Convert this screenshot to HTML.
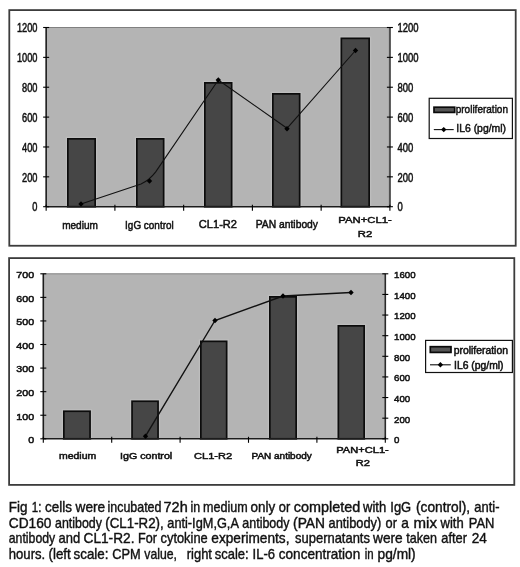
<!DOCTYPE html>
<html><head><meta charset="utf-8"><title>Fig 1</title>
<style>
html,body{margin:0;padding:0;background:#fff;}
body{width:520px;height:567px;overflow:hidden;position:relative;font-family:"Liberation Sans",Arial,sans-serif;}
svg{position:absolute;left:0;top:0;display:block;filter:blur(0.4px);}
svg text{font-family:"Liberation Sans",Arial,sans-serif;fill:#111;stroke:#111;stroke-width:0.5px;}
svg text.cap{font-size:13.9px;fill:#111;stroke-width:0.4px;}
</style></head><body>
<svg width="520" height="567" viewBox="0 0 520 567">
<rect x="9.3" y="10.1" width="506.40000000000003" height="235.65" fill="#fff" stroke="#3c3c3c" stroke-width="1.8"/>
<rect x="46.15" y="27.5" width="343.75" height="179.2" fill="#b4b4b4"/>
<line x1="46.15" y1="27.5" x2="389.9" y2="27.5" stroke="#808080" stroke-width="1"/>
<rect x="66.4" y="137.4" width="30.2" height="69.29999999999998" fill="none" stroke="#bdbdbd" stroke-width="1.2"/>
<rect x="67.85" y="138.85" width="27.3" height="67.85" fill="#464646" stroke="#0c0c0c" stroke-width="1.7"/>
<rect x="135.4" y="137.4" width="29.7" height="69.29999999999998" fill="none" stroke="#bdbdbd" stroke-width="1.2"/>
<rect x="136.85" y="138.85" width="26.8" height="67.85" fill="#464646" stroke="#0c0c0c" stroke-width="1.7"/>
<rect x="203.4" y="81.4" width="29.7" height="125.29999999999998" fill="none" stroke="#bdbdbd" stroke-width="1.2"/>
<rect x="204.85" y="82.85" width="26.8" height="123.85" fill="#464646" stroke="#0c0c0c" stroke-width="1.7"/>
<rect x="271.4" y="92.4" width="29.7" height="114.29999999999998" fill="none" stroke="#bdbdbd" stroke-width="1.2"/>
<rect x="272.85" y="93.85" width="26.8" height="112.85" fill="#464646" stroke="#0c0c0c" stroke-width="1.7"/>
<rect x="339.9" y="36.9" width="30.7" height="169.79999999999998" fill="none" stroke="#bdbdbd" stroke-width="1.2"/>
<rect x="341.35" y="38.35" width="27.8" height="168.35" fill="#464646" stroke="#0c0c0c" stroke-width="1.7"/>
<line x1="46.15" y1="27.5" x2="46.15" y2="206.7" stroke="#1c1c1c" stroke-width="1.6"/>
<line x1="389.9" y1="27.5" x2="389.9" y2="206.7" stroke="#505050" stroke-width="2.0"/>
<line x1="46.15" y1="206.7" x2="389.9" y2="206.7" stroke="#1c1c1c" stroke-width="1.6"/>
<line x1="43.15" y1="206.70" x2="49.15" y2="206.70" stroke="#000" stroke-width="1.1"/>
<text transform="translate(37.45,211.4) scale(0.77,1)" font-size="12" text-anchor="end">0</text>
<line x1="43.15" y1="176.83" x2="49.15" y2="176.83" stroke="#000" stroke-width="1.1"/>
<text transform="translate(37.45,181.53) scale(0.77,1)" font-size="12" text-anchor="end">200</text>
<line x1="43.15" y1="146.97" x2="49.15" y2="146.97" stroke="#000" stroke-width="1.1"/>
<text transform="translate(37.45,151.67) scale(0.77,1)" font-size="12" text-anchor="end">400</text>
<line x1="43.15" y1="117.10" x2="49.15" y2="117.10" stroke="#000" stroke-width="1.1"/>
<text transform="translate(37.45,121.8) scale(0.77,1)" font-size="12" text-anchor="end">600</text>
<line x1="43.15" y1="87.23" x2="49.15" y2="87.23" stroke="#000" stroke-width="1.1"/>
<text transform="translate(37.45,91.93) scale(0.77,1)" font-size="12" text-anchor="end">800</text>
<line x1="43.15" y1="57.37" x2="49.15" y2="57.37" stroke="#000" stroke-width="1.1"/>
<text transform="translate(37.45,62.07) scale(0.77,1)" font-size="12" text-anchor="end">1000</text>
<line x1="43.15" y1="27.50" x2="49.15" y2="27.50" stroke="#000" stroke-width="1.1"/>
<text transform="translate(37.45,32.2) scale(0.77,1)" font-size="12" text-anchor="end">1200</text>
<line x1="386.9" y1="206.70" x2="392.9" y2="206.70" stroke="#000" stroke-width="1.1"/>
<text transform="translate(397.5,211.4) scale(0.79,1)" font-size="12" text-anchor="start">0</text>
<line x1="386.9" y1="176.83" x2="392.9" y2="176.83" stroke="#000" stroke-width="1.1"/>
<text transform="translate(397.5,181.53) scale(0.79,1)" font-size="12" text-anchor="start">200</text>
<line x1="386.9" y1="146.97" x2="392.9" y2="146.97" stroke="#000" stroke-width="1.1"/>
<text transform="translate(397.5,151.67) scale(0.79,1)" font-size="12" text-anchor="start">400</text>
<line x1="386.9" y1="117.10" x2="392.9" y2="117.10" stroke="#000" stroke-width="1.1"/>
<text transform="translate(397.5,121.8) scale(0.79,1)" font-size="12" text-anchor="start">600</text>
<line x1="386.9" y1="87.23" x2="392.9" y2="87.23" stroke="#000" stroke-width="1.1"/>
<text transform="translate(397.5,91.93) scale(0.79,1)" font-size="12" text-anchor="start">800</text>
<line x1="386.9" y1="57.37" x2="392.9" y2="57.37" stroke="#000" stroke-width="1.1"/>
<text transform="translate(397.5,62.07) scale(0.79,1)" font-size="12" text-anchor="start">1000</text>
<line x1="386.9" y1="27.50" x2="392.9" y2="27.50" stroke="#000" stroke-width="1.1"/>
<text transform="translate(397.5,32.2) scale(0.79,1)" font-size="12" text-anchor="start">1200</text>
<line x1="46.15" y1="204.7" x2="46.15" y2="210.7" stroke="#000" stroke-width="1.1"/>
<line x1="114.90" y1="204.7" x2="114.90" y2="210.7" stroke="#000" stroke-width="1.1"/>
<line x1="183.65" y1="204.7" x2="183.65" y2="210.7" stroke="#000" stroke-width="1.1"/>
<line x1="252.40" y1="204.7" x2="252.40" y2="210.7" stroke="#000" stroke-width="1.1"/>
<line x1="321.15" y1="204.7" x2="321.15" y2="210.7" stroke="#000" stroke-width="1.1"/>
<line x1="389.90" y1="204.7" x2="389.90" y2="210.7" stroke="#000" stroke-width="1.1"/>
<text x="62.15" y="229" font-size="11" textLength="35.75" lengthAdjust="spacingAndGlyphs">medium</text>
<text x="125.10" y="229" font-size="11" textLength="48.60" lengthAdjust="spacingAndGlyphs">IgG control</text>
<text x="198.80" y="228.4" font-size="11" textLength="38.20" lengthAdjust="spacingAndGlyphs">CL1-R2</text>
<text x="255.75" y="228.4" font-size="11" textLength="62.25" lengthAdjust="spacingAndGlyphs">PAN antibody</text>
<text x="338.25" y="223.2" font-size="9.8" textLength="53.50" lengthAdjust="spacingAndGlyphs">PAN+CL1-</text>
<text x="357.75" y="236.5" font-size="9.8" textLength="14.50" lengthAdjust="spacingAndGlyphs">R2</text>
<path d="M81,204 L141,183.9 Q149.3,180.4 155.7,171.9 L218.3,80 L287,128.3 L355.5,50.5" fill="none" stroke="#111" stroke-width="1.1" stroke-linejoin="round"/>
<path d="M78.3,204 L81,201.3 L83.7,204 L81,206.7Z" fill="#000"/>
<path d="M146.8,181 L149.5,178.3 L152.2,181 L149.5,183.7Z" fill="#000"/>
<path d="M215.60000000000002,80 L218.3,77.3 L221.0,80 L218.3,82.7Z" fill="#000"/>
<path d="M284.3,128.8 L287,126.10000000000001 L289.7,128.8 L287,131.5Z" fill="#000"/>
<path d="M352.8,50.5 L355.5,47.8 L358.2,50.5 L355.5,53.2Z" fill="#000"/>
<rect x="429.2" y="98.3" width="83.19999999999999" height="40.2" fill="#fff" stroke="#111" stroke-width="1.2"/>
<rect x="434" y="107.2" width="20.69999999999999" height="5.200000000000003" fill="#555" stroke="#0a0a0a" stroke-width="1.7"/>
<text x="455.70" y="112.6" font-size="11.7" textLength="52.30" lengthAdjust="spacingAndGlyphs">proliferation</text>
<line x1="433.8" y1="129.6" x2="453.7" y2="129.6" stroke="#111" stroke-width="1.1"/>
<path d="M441.05,129.6 L443.75,126.89999999999999 L446.45,129.6 L443.75,132.29999999999998Z" fill="#000"/>
<text x="456.30" y="131.6" font-size="11.7" textLength="49.70" lengthAdjust="spacingAndGlyphs">IL6 (pg/ml)</text>
<rect x="9.1" y="258.1" width="505.19999999999993" height="226.79999999999995" fill="#fff" stroke="#3c3c3c" stroke-width="1.8"/>
<rect x="43.3" y="273.8" width="342.0" height="165.0" fill="#b4b4b4"/>
<line x1="43.3" y1="273.8" x2="385.3" y2="273.8" stroke="#808080" stroke-width="1"/>
<rect x="62.4" y="409.79999999999995" width="29.100000000000005" height="29.000000000000036" fill="none" stroke="#bdbdbd" stroke-width="1.2"/>
<rect x="63.85" y="411.25" width="26.200000000000006" height="27.550000000000033" fill="#464646" stroke="#0c0c0c" stroke-width="1.7"/>
<rect x="130.6" y="399.79999999999995" width="28.900000000000016" height="39.000000000000036" fill="none" stroke="#bdbdbd" stroke-width="1.2"/>
<rect x="132.04999999999998" y="401.25" width="26.000000000000018" height="37.55000000000003" fill="#464646" stroke="#0c0c0c" stroke-width="1.7"/>
<rect x="199.4" y="339.9" width="28.7" height="98.9" fill="none" stroke="#bdbdbd" stroke-width="1.2"/>
<rect x="200.85" y="341.35" width="25.8" height="97.45000000000002" fill="#464646" stroke="#0c0c0c" stroke-width="1.7"/>
<rect x="268.4" y="295.4" width="29.2" height="143.4" fill="none" stroke="#bdbdbd" stroke-width="1.2"/>
<rect x="269.85" y="296.85" width="26.3" height="141.95000000000002" fill="#464646" stroke="#0c0c0c" stroke-width="1.7"/>
<rect x="336.9" y="324.4" width="28.7" height="114.4" fill="none" stroke="#bdbdbd" stroke-width="1.2"/>
<rect x="338.35" y="325.85" width="25.8" height="112.95000000000002" fill="#464646" stroke="#0c0c0c" stroke-width="1.7"/>
<line x1="43.3" y1="273.8" x2="43.3" y2="438.8" stroke="#1c1c1c" stroke-width="1.6"/>
<line x1="385.3" y1="273.8" x2="385.3" y2="438.8" stroke="#2a2a2a" stroke-width="1.6"/>
<line x1="43.3" y1="438.8" x2="385.3" y2="438.8" stroke="#1c1c1c" stroke-width="1.6"/>
<line x1="40.3" y1="438.80" x2="46.3" y2="438.80" stroke="#000" stroke-width="1.1"/>
<text transform="translate(34.199999999999996,443.2) scale(1.13,1)" font-size="9.5" text-anchor="end">0</text>
<line x1="40.3" y1="415.23" x2="46.3" y2="415.23" stroke="#000" stroke-width="1.1"/>
<text transform="translate(34.199999999999996,419.63) scale(1.13,1)" font-size="9.5" text-anchor="end">100</text>
<line x1="40.3" y1="391.66" x2="46.3" y2="391.66" stroke="#000" stroke-width="1.1"/>
<text transform="translate(34.199999999999996,396.06) scale(1.13,1)" font-size="9.5" text-anchor="end">200</text>
<line x1="40.3" y1="368.09" x2="46.3" y2="368.09" stroke="#000" stroke-width="1.1"/>
<text transform="translate(34.199999999999996,372.49) scale(1.13,1)" font-size="9.5" text-anchor="end">300</text>
<line x1="40.3" y1="344.51" x2="46.3" y2="344.51" stroke="#000" stroke-width="1.1"/>
<text transform="translate(34.199999999999996,348.91) scale(1.13,1)" font-size="9.5" text-anchor="end">400</text>
<line x1="40.3" y1="320.94" x2="46.3" y2="320.94" stroke="#000" stroke-width="1.1"/>
<text transform="translate(34.199999999999996,325.34) scale(1.13,1)" font-size="9.5" text-anchor="end">500</text>
<line x1="40.3" y1="297.37" x2="46.3" y2="297.37" stroke="#000" stroke-width="1.1"/>
<text transform="translate(34.199999999999996,301.77) scale(1.13,1)" font-size="9.5" text-anchor="end">600</text>
<line x1="40.3" y1="273.80" x2="46.3" y2="273.80" stroke="#000" stroke-width="1.1"/>
<text transform="translate(34.199999999999996,278.2) scale(1.13,1)" font-size="9.5" text-anchor="end">700</text>
<line x1="382.3" y1="438.80" x2="388.3" y2="438.80" stroke="#000" stroke-width="1.1"/>
<text transform="translate(394.1,443.2) scale(1.02,1)" font-size="9.5" text-anchor="start">0</text>
<line x1="382.3" y1="418.18" x2="388.3" y2="418.18" stroke="#000" stroke-width="1.1"/>
<text transform="translate(394.1,422.57) scale(1.02,1)" font-size="9.5" text-anchor="start">200</text>
<line x1="382.3" y1="397.55" x2="388.3" y2="397.55" stroke="#000" stroke-width="1.1"/>
<text transform="translate(394.1,401.95) scale(1.02,1)" font-size="9.5" text-anchor="start">400</text>
<line x1="382.3" y1="376.93" x2="388.3" y2="376.93" stroke="#000" stroke-width="1.1"/>
<text transform="translate(394.1,381.32) scale(1.02,1)" font-size="9.5" text-anchor="start">600</text>
<line x1="382.3" y1="356.30" x2="388.3" y2="356.30" stroke="#000" stroke-width="1.1"/>
<text transform="translate(394.1,360.7) scale(1.02,1)" font-size="9.5" text-anchor="start">800</text>
<line x1="382.3" y1="335.68" x2="388.3" y2="335.68" stroke="#000" stroke-width="1.1"/>
<text transform="translate(394.1,340.07) scale(1.02,1)" font-size="9.5" text-anchor="start">1000</text>
<line x1="382.3" y1="315.05" x2="388.3" y2="315.05" stroke="#000" stroke-width="1.1"/>
<text transform="translate(394.1,319.45) scale(1.02,1)" font-size="9.5" text-anchor="start">1200</text>
<line x1="382.3" y1="294.43" x2="388.3" y2="294.43" stroke="#000" stroke-width="1.1"/>
<text transform="translate(394.1,298.82) scale(1.02,1)" font-size="9.5" text-anchor="start">1400</text>
<line x1="382.3" y1="273.80" x2="388.3" y2="273.80" stroke="#000" stroke-width="1.1"/>
<text transform="translate(394.1,278.2) scale(1.02,1)" font-size="9.5" text-anchor="start">1600</text>
<line x1="43.30" y1="436.8" x2="43.30" y2="442.8" stroke="#000" stroke-width="1.1"/>
<line x1="111.70" y1="436.8" x2="111.70" y2="442.8" stroke="#000" stroke-width="1.1"/>
<line x1="180.10" y1="436.8" x2="180.10" y2="442.8" stroke="#000" stroke-width="1.1"/>
<line x1="248.50" y1="436.8" x2="248.50" y2="442.8" stroke="#000" stroke-width="1.1"/>
<line x1="316.90" y1="436.8" x2="316.90" y2="442.8" stroke="#000" stroke-width="1.1"/>
<line x1="385.30" y1="436.8" x2="385.30" y2="442.8" stroke="#000" stroke-width="1.1"/>
<text x="59.00" y="459.4" font-size="9" textLength="37.25" lengthAdjust="spacingAndGlyphs">medium</text>
<text x="120.00" y="459.4" font-size="9" textLength="52.25" lengthAdjust="spacingAndGlyphs">IgG control</text>
<text x="194.00" y="459.3" font-size="9.5" textLength="38.25" lengthAdjust="spacingAndGlyphs">CL1-R2</text>
<text x="251.50" y="459.3" font-size="8.7" textLength="60.25" lengthAdjust="spacingAndGlyphs">PAN antibody</text>
<text x="336.25" y="452.7" font-size="9" textLength="52.50" lengthAdjust="spacingAndGlyphs">PAN+CL1-</text>
<text x="355.75" y="465.9" font-size="9" textLength="14.25" lengthAdjust="spacingAndGlyphs">R2</text>
<polyline points="145.5,436.2 215,320.5 283,296 351,292.5" fill="none" stroke="#111" stroke-width="1.4"/>
<path d="M142.8,436.2 L145.5,433.5 L148.2,436.2 L145.5,438.9Z" fill="#000"/>
<path d="M212.3,320.5 L215,317.8 L217.7,320.5 L215,323.2Z" fill="#000"/>
<path d="M280.3,296 L283,293.3 L285.7,296 L283,298.7Z" fill="#000"/>
<path d="M348.3,292.5 L351,289.8 L353.7,292.5 L351,295.2Z" fill="#000"/>
<rect x="425.6" y="340.4" width="86.79999999999995" height="32.10000000000002" fill="#fff" stroke="#111" stroke-width="1.2"/>
<rect x="430.3" y="346.7" width="20.69999999999999" height="5.699999999999989" fill="#555" stroke="#0a0a0a" stroke-width="1.7"/>
<text x="453.70" y="354.2" font-size="10" textLength="54.30" lengthAdjust="spacingAndGlyphs">proliferation</text>
<line x1="430" y1="364.8" x2="450.8" y2="364.8" stroke="#111" stroke-width="1.1"/>
<path d="M437.7,364.8 L440.4,362.1 L443.09999999999997,364.8 L440.4,367.5Z" fill="#000"/>
<text x="454.10" y="369.2" font-size="10" textLength="49.40" lengthAdjust="spacingAndGlyphs">IL6 (pg/ml)</text>
<text class="cap" y="512">
<tspan x="8.80" textLength="18.65" lengthAdjust="spacingAndGlyphs">Fig</tspan> 
<tspan x="31.80" textLength="9.65" lengthAdjust="spacingAndGlyphs">1:</tspan> 
<tspan x="45.05" textLength="26.90" lengthAdjust="spacingAndGlyphs">cells</tspan> 
<tspan x="75.55" textLength="29.65" lengthAdjust="spacingAndGlyphs">were</tspan> 
<tspan x="107.55" textLength="53.90" lengthAdjust="spacingAndGlyphs">incubated</tspan> 
<tspan x="163.55" textLength="24.15" lengthAdjust="spacingAndGlyphs">72h</tspan> 
<tspan x="190.55" textLength="9.65" lengthAdjust="spacingAndGlyphs">in</tspan> 
<tspan x="203.05" textLength="44.65" lengthAdjust="spacingAndGlyphs">medium</tspan> 
<tspan x="250.55" textLength="24.65" lengthAdjust="spacingAndGlyphs">only</tspan> 
<tspan x="278.80" textLength="11.40" lengthAdjust="spacingAndGlyphs">or</tspan> 
<tspan x="293.80" textLength="66.40" lengthAdjust="spacingAndGlyphs">completed</tspan> 
<tspan x="363.05" textLength="23.15" lengthAdjust="spacingAndGlyphs">with</tspan> 
<tspan x="390.30" textLength="20.90" lengthAdjust="spacingAndGlyphs">IgG</tspan> 
<tspan x="416.05" textLength="54.15" lengthAdjust="spacingAndGlyphs">(control),</tspan> 
<tspan x="474.30" textLength="25.15" lengthAdjust="spacingAndGlyphs">anti-</tspan>
</text>
<text class="cap" y="527.5">
<tspan x="8.80" textLength="42.65" lengthAdjust="spacingAndGlyphs">CD160</tspan> 
<tspan x="55.05" textLength="46.90" lengthAdjust="spacingAndGlyphs">antibody</tspan> 
<tspan x="105.30" textLength="58.40" lengthAdjust="spacingAndGlyphs">(CL1-R2),</tspan> 
<tspan x="167.30" textLength="70.90" lengthAdjust="spacingAndGlyphs">anti-IgM,G,A</tspan> 
<tspan x="242.30" textLength="47.15" lengthAdjust="spacingAndGlyphs">antibody</tspan> 
<tspan x="293.05" textLength="31.90" lengthAdjust="spacingAndGlyphs">(PAN</tspan> 
<tspan x="328.55" textLength="52.65" lengthAdjust="spacingAndGlyphs">antibody)</tspan> 
<tspan x="385.55" textLength="11.40" lengthAdjust="spacingAndGlyphs">or</tspan> 
<tspan x="401.30" textLength="7.65" lengthAdjust="spacingAndGlyphs">a</tspan> 
<tspan x="413.55" textLength="23.40" lengthAdjust="spacingAndGlyphs">mix</tspan> 
<tspan x="440.55" textLength="23.15" lengthAdjust="spacingAndGlyphs">with</tspan> 
<tspan x="468.80" textLength="25.65" lengthAdjust="spacingAndGlyphs">PAN</tspan>
</text>
<text class="cap" y="543.3">
<tspan x="8.80" textLength="46.40" lengthAdjust="spacingAndGlyphs">antibody</tspan> 
<tspan x="58.55" textLength="21.65" lengthAdjust="spacingAndGlyphs">and</tspan> 
<tspan x="83.55" textLength="50.90" lengthAdjust="spacingAndGlyphs">CL1-R2.</tspan> 
<tspan x="138.05" textLength="18.90" lengthAdjust="spacingAndGlyphs">For</tspan> 
<tspan x="160.55" textLength="47.15" lengthAdjust="spacingAndGlyphs">cytokine</tspan> 
<tspan x="211.30" textLength="78.15" lengthAdjust="spacingAndGlyphs">experiments,</tspan> 
<tspan x="295.05" textLength="74.90" lengthAdjust="spacingAndGlyphs">supernatants</tspan> 
<tspan x="373.05" textLength="29.65" lengthAdjust="spacingAndGlyphs">were</tspan> 
<tspan x="406.30" textLength="30.65" lengthAdjust="spacingAndGlyphs">taken</tspan> 
<tspan x="441.30" textLength="25.65" lengthAdjust="spacingAndGlyphs">after</tspan> 
<tspan x="471.80" textLength="15.15" lengthAdjust="spacingAndGlyphs">24</tspan>
</text>
<text class="cap" y="559.3">
<tspan x="8.80" textLength="36.40" lengthAdjust="spacingAndGlyphs">hours.</tspan> 
<tspan x="48.55" textLength="22.15" lengthAdjust="spacingAndGlyphs">(left</tspan> 
<tspan x="73.55" textLength="34.90" lengthAdjust="spacingAndGlyphs">scale:</tspan> 
<tspan x="112.30" textLength="28.40" lengthAdjust="spacingAndGlyphs">CPM</tspan> 
<tspan x="144.30" textLength="32.65" lengthAdjust="spacingAndGlyphs">value,</tspan> 
<tspan x="186.80" textLength="25.15" lengthAdjust="spacingAndGlyphs">right</tspan> 
<tspan x="214.80" textLength="33.90" lengthAdjust="spacingAndGlyphs">scale:</tspan> 
<tspan x="252.55" textLength="22.40" lengthAdjust="spacingAndGlyphs">IL-6</tspan> 
<tspan x="278.80" textLength="81.40" lengthAdjust="spacingAndGlyphs">concentration</tspan> 
<tspan x="364.80" textLength="8.90" lengthAdjust="spacingAndGlyphs">in</tspan> 
<tspan x="377.55" textLength="38.15" lengthAdjust="spacingAndGlyphs">pg/ml)</tspan>
</text>
</svg>
</body></html>
